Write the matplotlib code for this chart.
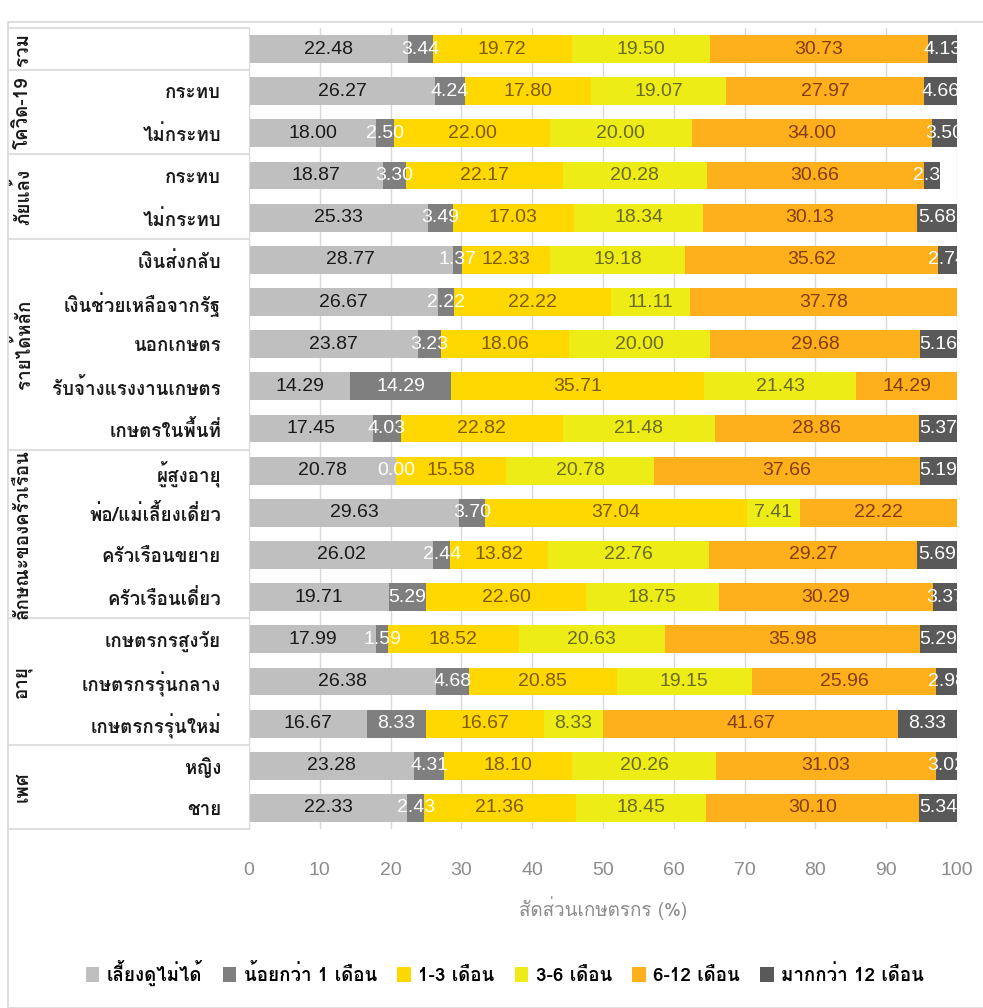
import numpy as np
import matplotlib
matplotlib.use('Agg')
import matplotlib.pyplot as plt
from matplotlib import font_manager, ft2font
from matplotlib.patches import Rectangle

# --- data, top row first ---
rows = ['', 'กระทบ', 'ไม่กระทบ', 'กระทบ', 'ไม่กระทบ',
        'เงินส่งกลับ', 'เงินช่วยเหลือจากรัฐ', 'นอกเกษตร', 'รับจ้างแรงงานเกษตร', 'เกษตรในพื้นที่',
        'ผู้สูงอายุ', 'พ่อ/แม่เลี้ยงเดี่ยว', 'ครัวเรือนขยาย', 'ครัวเรือนเดี่ยว',
        'เกษตรกรสูงวัย', 'เกษตรกรรุ่นกลาง', 'เกษตรกรรุ่นใหม่',
        'หญิง', 'ชาย']

groups = ['รวม', 'โควิด-19', 'ภัยแล้ง', 'รายได้หลัก', 'ลักษณะของครัวเรือน', 'อายุ', 'เพศ']
group_sizes = [1, 2, 2, 5, 4, 3, 2]

series = ['เลี้ยงดูไม่ได้', 'น้อยกว่า 1 เดือน', '1-3 เดือน', '3-6 เดือน', '6-12 เดือน', 'มากกว่า 12 เดือน']

cant_feed = [22.48, 26.27, 18.00, 18.87, 25.33, 28.77, 26.67, 23.87, 14.29, 17.45,
             20.78, 29.63, 26.02, 19.71, 17.99, 26.38, 16.67, 23.28, 22.33]
lt_1m = [3.44, 4.24, 2.50, 3.30, 3.49, 1.37, 2.22, 3.23, 14.29, 4.03,
         0.00, 3.70, 2.44, 5.29, 1.59, 4.68, 8.33, 4.31, 2.43]
m1_3 = [19.72, 17.80, 22.00, 22.17, 17.03, 12.33, 22.22, 18.06, 35.71, 22.82,
        15.58, 37.04, 13.82, 22.60, 18.52, 20.85, 16.67, 18.10, 21.36]
m3_6 = [19.50, 19.07, 20.00, 20.28, 18.34, 19.18, 11.11, 20.00, 21.43, 21.48,
        20.78, 7.41, 22.76, 18.75, 20.63, 19.15, 8.33, 20.26, 18.45]
m6_12 = [30.73, 27.97, 34.00, 30.66, 30.13, 35.62, 37.78, 29.68, 14.29, 28.86,
         37.66, 22.22, 29.27, 30.29, 35.98, 25.96, 41.67, 31.03, 30.10]
gt_12m = [4.13, 4.66, 3.50, 2.36, 5.68, 2.74, np.nan, 5.16, np.nan, 5.37,
          5.19, np.nan, 5.69, 3.37, 5.29, 2.98, 8.33, 3.02, 5.34]

colors = ['#bfbfbf', '#7f7f7f', '#fed800', '#eeec16', '#fdb01b', '#595959']
text_colors = ['#1a1a1a', 'white', '#7f5a00', '#6a6a20', '#843c0c', 'white']


def thai_font():
    """ Return the name of an installed font that has Thai glyphs """
    for f in font_manager.fontManager.ttflist:
        try:
            if 0x0E01 in ft2font.FT2Font(f.fname).get_charmap():
                return f.name
        except Exception:
            pass
    return 'DejaVu Sans'


thai = thai_font()
plt.rcParams['font.family'] = [thai, 'DejaVu Sans']
num_font = ['Liberation Sans', thai, 'DejaVu Sans']

fig = plt.figure(figsize=(9.83, 10.08), dpi=100)
ax = fig.add_axes([249 / 983, 1 - 829 / 1008, 708 / 983, 801 / 1008])

y = np.arange(len(rows))
left = np.zeros(len(rows))
for vals, col, tcol, name in zip([cant_feed, lt_1m, m1_3, m3_6, m6_12, gt_12m],
                                 colors, text_colors, series):
    v = np.array(vals, dtype=float)
    w = np.nan_to_num(v)
    ax.barh(y, w, left=left, height=0.66, color=col, label=name, zorder=2)
    for i in range(len(rows)):
        if not np.isnan(v[i]):
            ax.text(left[i] + w[i] / 2, y[i], '{:.2f}'.format(v[i]), ha='center', va='center',
                    fontsize=14, color=tcol, family=num_font, zorder=3)
    left += w

ax.set_xlim(0, 100)
ax.set_ylim(len(rows) - 0.5, -0.5)
ax.set_xticks(range(0, 101, 10))
ax.set_yticks(y)
ax.set_yticklabels(rows, fontsize=13.5, color='#1a1a1a', fontweight='bold')
for t in ax.get_xticklabels():
    t.set_family(num_font)
ax.tick_params(axis='y', length=0, pad=20)
ax.tick_params(axis='x', length=0, pad=24, labelsize=14, labelcolor='#8c8c8c')
ax.xaxis.grid(True, color='#d9d9d9', lw=1, zorder=0)
for s in ['top', 'right', 'bottom']:
    ax.spines[s].set_visible(False)
ax.spines['left'].set_color('#d9d9d9')
ax.set_xlabel('สัดส่วนเกษตรกร (%)', fontsize=13.5, color='#8c8c8c', labelpad=12)

# group labels and separators to the left of the bars
tr = ax.get_yaxis_transform()
x0 = -241 / 708
start = -0.5
for g, n in zip(groups, group_sizes):
    ax.plot([x0, 0], [start, start], transform=tr, color='#d9d9d9', lw=1.2, clip_on=False)
    ax.text(x0 + 15 / 708, start + n / 2, g, transform=tr, rotation=90, ha='center', va='center',
            fontsize=13.5, color='#1a1a1a', fontweight='bold')
    start += n
ax.plot([x0, 0], [start, start], transform=tr, color='#d9d9d9', lw=1.2, clip_on=False)

# outer frame
fig.patches.append(Rectangle((8 / 983, 0), 1, 1 - 22 / 1008, transform=fig.transFigure,
                             fill=False, edgecolor='#d9d9d9', lw=1.2))

fig.legend(loc='center', bbox_to_anchor=(505 / 983, 1 - 973 / 1008), ncol=6, frameon=False,
           prop={'size': 13.5, 'weight': 'bold'}, handlelength=0.7, handleheight=0.9,
           handletextpad=0.4, columnspacing=1.1)

fig.savefig('out.png', dpi=100)
